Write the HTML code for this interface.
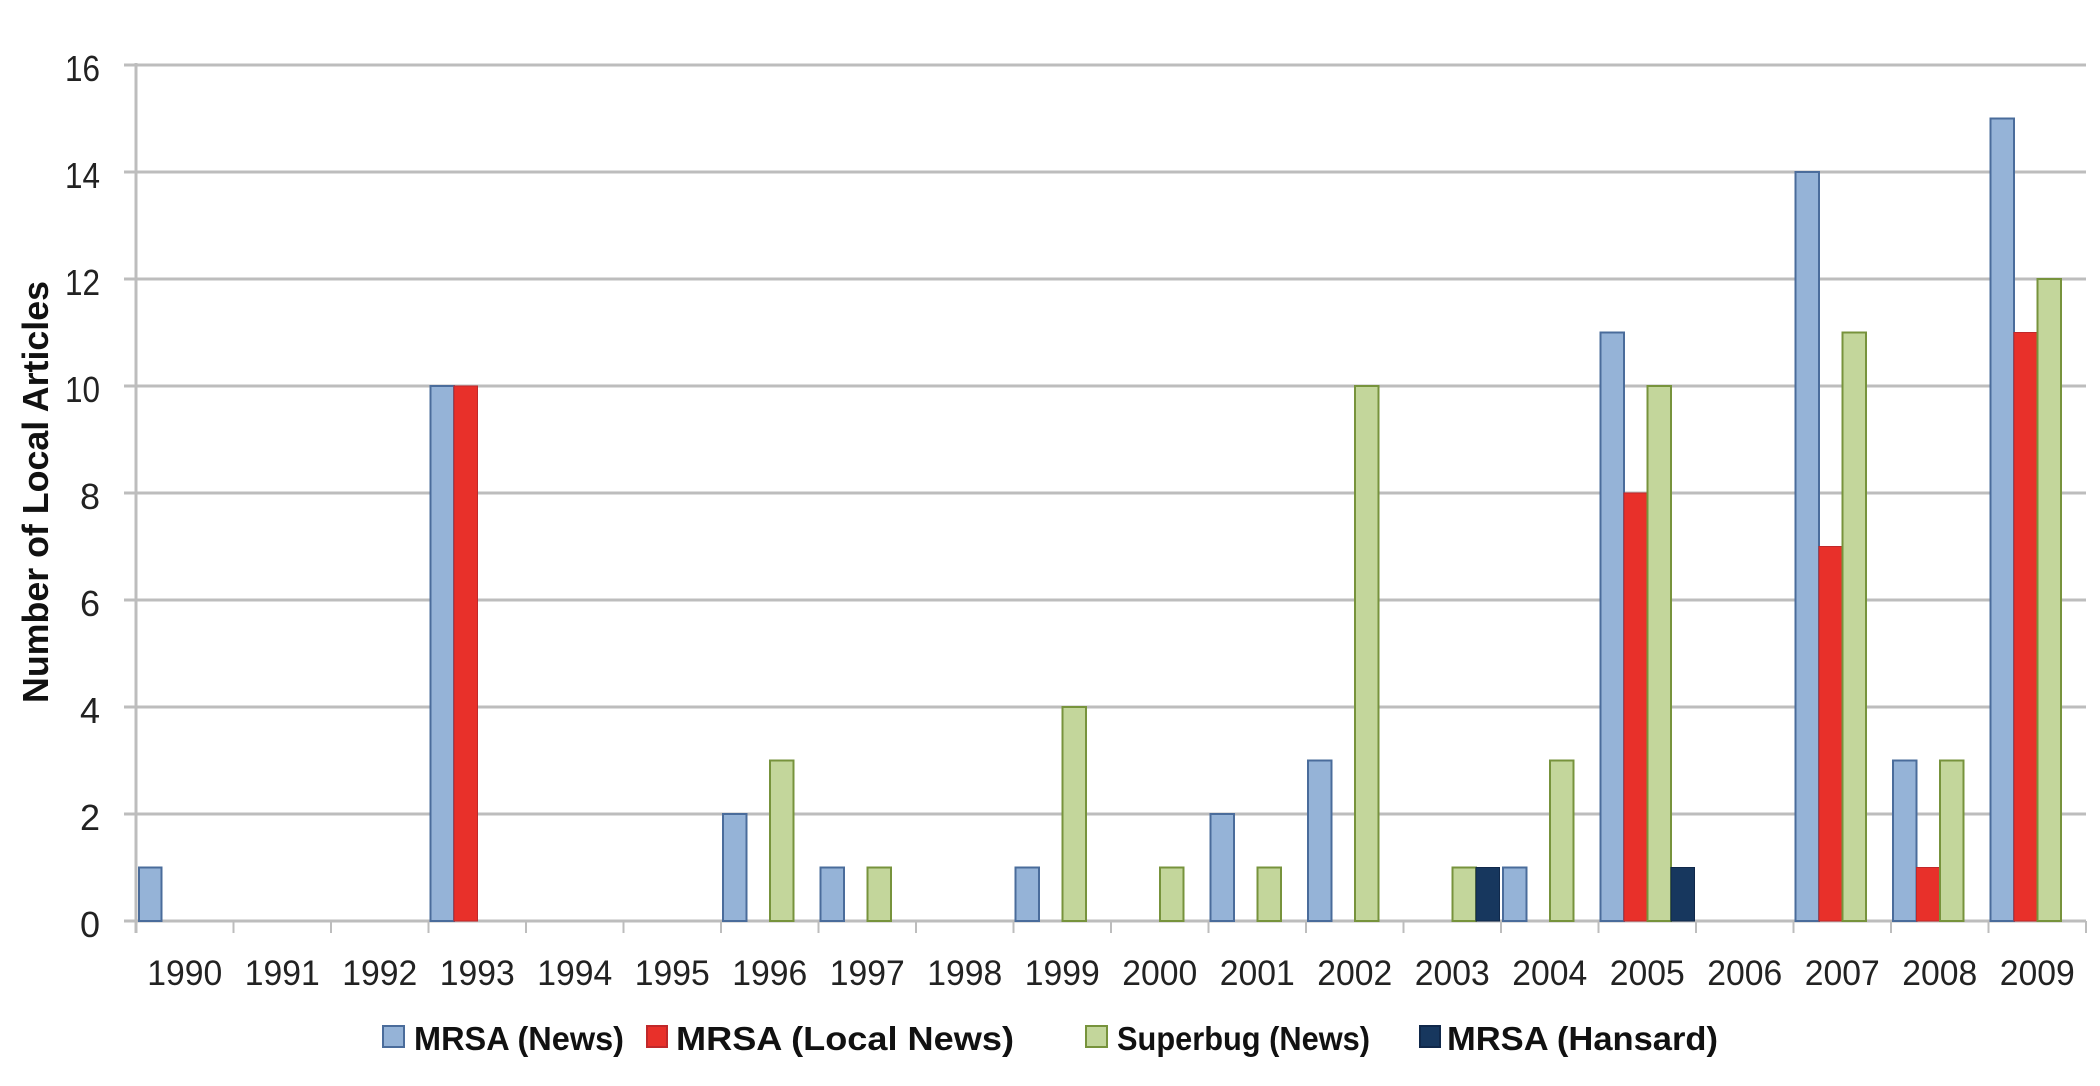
<!DOCTYPE html>
<html><head><meta charset="utf-8"><style>html,body{margin:0;padding:0;background:#fff}svg{display:block}</style></head>
<body>
<svg width="2100" height="1086" viewBox="0 0 2100 1086" xmlns="http://www.w3.org/2000/svg">
<g stroke="#bdbdbd" stroke-width="3">
<line x1="124" y1="65" x2="2086" y2="65"/>
<line x1="124" y1="172" x2="2086" y2="172"/>
<line x1="124" y1="279" x2="2086" y2="279"/>
<line x1="124" y1="386" x2="2086" y2="386"/>
<line x1="124" y1="493" x2="2086" y2="493"/>
<line x1="124" y1="600" x2="2086" y2="600"/>
<line x1="124" y1="707" x2="2086" y2="707"/>
<line x1="124" y1="814" x2="2086" y2="814"/>
<line x1="124" y1="921" x2="2086" y2="921"/>
<line x1="136" y1="63" x2="136" y2="933"/>
</g>
<g stroke="#bdbdbd" stroke-width="2">
<line x1="233.5" y1="921" x2="233.5" y2="933"/><line x1="331" y1="921" x2="331" y2="933"/><line x1="428.5" y1="921" x2="428.5" y2="933"/><line x1="526" y1="921" x2="526" y2="933"/><line x1="623.5" y1="921" x2="623.5" y2="933"/><line x1="721" y1="921" x2="721" y2="933"/><line x1="818.5" y1="921" x2="818.5" y2="933"/><line x1="916" y1="921" x2="916" y2="933"/><line x1="1013.5" y1="921" x2="1013.5" y2="933"/><line x1="1111" y1="921" x2="1111" y2="933"/><line x1="1208.5" y1="921" x2="1208.5" y2="933"/><line x1="1306" y1="921" x2="1306" y2="933"/><line x1="1403.5" y1="921" x2="1403.5" y2="933"/><line x1="1501" y1="921" x2="1501" y2="933"/><line x1="1598.5" y1="921" x2="1598.5" y2="933"/><line x1="1696" y1="921" x2="1696" y2="933"/><line x1="1793.5" y1="921" x2="1793.5" y2="933"/><line x1="1891" y1="921" x2="1891" y2="933"/><line x1="1988.5" y1="921" x2="1988.5" y2="933"/><line x1="2086" y1="921" x2="2086" y2="933"/>
</g>
<g fill="#95b3d7" stroke="#4a6c9b" stroke-width="2">
<rect x="139" y="867.5" width="22.5" height="53.5"/>
<rect x="430.5" y="386" width="23.5" height="535"/>
<rect x="723" y="814" width="23.5" height="107"/>
<rect x="820.5" y="867.5" width="23.5" height="53.5"/>
<rect x="1015.5" y="867.5" width="23.5" height="53.5"/>
<rect x="1210.5" y="814" width="23.5" height="107"/>
<rect x="1308" y="760.5" width="23.5" height="160.5"/>
<rect x="1503" y="867.5" width="23.5" height="53.5"/>
<rect x="1600.5" y="332.5" width="23.5" height="588.5"/>
<rect x="1795.5" y="172" width="23.5" height="749"/>
<rect x="1893" y="760.5" width="23.5" height="160.5"/>
<rect x="1990.5" y="118.5" width="23.5" height="802.5"/>
</g>
<g fill="#e8302a" stroke="#c0282a" stroke-width="1">
<rect x="454" y="386" width="23.5" height="535"/>
<rect x="1624" y="493" width="23.5" height="428"/>
<rect x="1819" y="546.5" width="23.5" height="374.5"/>
<rect x="1916.5" y="867.5" width="23.5" height="53.5"/>
<rect x="2014" y="332.5" width="23.5" height="588.5"/>
</g>
<g fill="#c3d69b" stroke="#77933c" stroke-width="2">
<rect x="770" y="760.5" width="23.5" height="160.5"/>
<rect x="867.5" y="867.5" width="23.5" height="53.5"/>
<rect x="1062.5" y="707" width="23.5" height="214"/>
<rect x="1160" y="867.5" width="23.5" height="53.5"/>
<rect x="1257.5" y="867.5" width="23.5" height="53.5"/>
<rect x="1355" y="386" width="23.5" height="535"/>
<rect x="1452.5" y="867.5" width="23.5" height="53.5"/>
<rect x="1550" y="760.5" width="23.5" height="160.5"/>
<rect x="1647.5" y="386" width="23.5" height="535"/>
<rect x="1842.5" y="332.5" width="23.5" height="588.5"/>
<rect x="1940" y="760.5" width="23.5" height="160.5"/>
<rect x="2037.5" y="279" width="23.5" height="642"/>
</g>
<g fill="#17375e" stroke="#10284a" stroke-width="1">
<rect x="1476" y="867.5" width="23.5" height="53.5"/>
<rect x="1671" y="867.5" width="23.5" height="53.5"/>
</g>
<g font-family="Liberation Sans, sans-serif" font-size="36" fill="#222" text-anchor="end">
<text x="100" y="81" textLength="35" lengthAdjust="spacingAndGlyphs">16</text><text x="100" y="188" textLength="35" lengthAdjust="spacingAndGlyphs">14</text><text x="100" y="295" textLength="35" lengthAdjust="spacingAndGlyphs">12</text><text x="100" y="402" textLength="35" lengthAdjust="spacingAndGlyphs">10</text><text x="100" y="509">8</text><text x="100" y="616">6</text><text x="100" y="723">4</text><text x="100" y="830">2</text><text x="100" y="937">0</text>
</g>
<g font-family="Liberation Sans, sans-serif" font-size="35" fill="#222" text-anchor="middle">
<text x="184.75" y="985" textLength="75" lengthAdjust="spacingAndGlyphs">1990</text><text x="282.25" y="985" textLength="75" lengthAdjust="spacingAndGlyphs">1991</text><text x="379.75" y="985" textLength="75" lengthAdjust="spacingAndGlyphs">1992</text><text x="477.25" y="985" textLength="75" lengthAdjust="spacingAndGlyphs">1993</text><text x="574.75" y="985" textLength="75" lengthAdjust="spacingAndGlyphs">1994</text><text x="672.25" y="985" textLength="75" lengthAdjust="spacingAndGlyphs">1995</text><text x="769.75" y="985" textLength="75" lengthAdjust="spacingAndGlyphs">1996</text><text x="867.25" y="985" textLength="75" lengthAdjust="spacingAndGlyphs">1997</text><text x="964.75" y="985" textLength="75" lengthAdjust="spacingAndGlyphs">1998</text><text x="1062.25" y="985" textLength="75" lengthAdjust="spacingAndGlyphs">1999</text><text x="1159.75" y="985" textLength="75" lengthAdjust="spacingAndGlyphs">2000</text><text x="1257.25" y="985" textLength="75" lengthAdjust="spacingAndGlyphs">2001</text><text x="1354.75" y="985" textLength="75" lengthAdjust="spacingAndGlyphs">2002</text><text x="1452.25" y="985" textLength="75" lengthAdjust="spacingAndGlyphs">2003</text><text x="1549.75" y="985" textLength="75" lengthAdjust="spacingAndGlyphs">2004</text><text x="1647.25" y="985" textLength="75" lengthAdjust="spacingAndGlyphs">2005</text><text x="1744.75" y="985" textLength="75" lengthAdjust="spacingAndGlyphs">2006</text><text x="1842.25" y="985" textLength="75" lengthAdjust="spacingAndGlyphs">2007</text><text x="1939.75" y="985" textLength="75" lengthAdjust="spacingAndGlyphs">2008</text><text x="2037.25" y="985" textLength="75" lengthAdjust="spacingAndGlyphs">2009</text>
</g>
<text transform="translate(48,492) rotate(-90)" font-family="Liberation Sans, sans-serif" font-weight="bold" font-size="36" fill="#111" text-anchor="middle" textLength="422" lengthAdjust="spacingAndGlyphs">Number of Local Articles</text>
<g stroke-width="2">
<rect x="383" y="1026" width="21" height="21" fill="#95b3d7" stroke="#4a6c9b"/>
<rect x="647" y="1026" width="20" height="21" fill="#e8302a" stroke="#c0282a"/>
<rect x="1086" y="1026" width="21" height="21" fill="#c3d69b" stroke="#77933c"/>
<rect x="1420" y="1026" width="20" height="21" fill="#17375e" stroke="#10284a"/>
</g>
<g font-family="Liberation Sans, sans-serif" font-weight="bold" font-size="33" fill="#111">
<text x="414" y="1050" textLength="210" lengthAdjust="spacingAndGlyphs">MRSA (News)</text>
<text x="676" y="1050" textLength="338" lengthAdjust="spacingAndGlyphs">MRSA (Local News)</text>
<text x="1117" y="1050" textLength="253" lengthAdjust="spacingAndGlyphs">Superbug (News)</text>
<text x="1447" y="1050" textLength="271" lengthAdjust="spacingAndGlyphs">MRSA (Hansard)</text>
</g>
</svg>
</body></html>
